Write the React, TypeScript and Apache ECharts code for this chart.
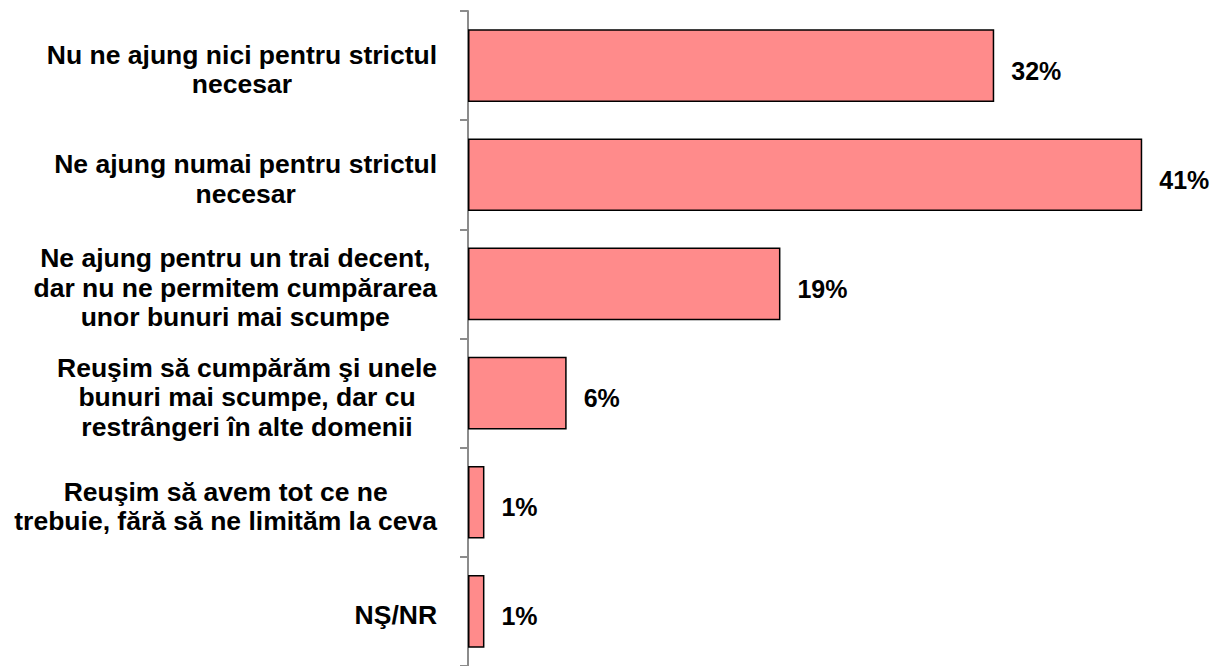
import React, { useEffect, useRef } from "react";
import * as echarts from "echarts";

const categories: string[] = [
  "Nu ne ajung nici pentru strictul\nnecesar",
  "Ne ajung numai pentru strictul\nnecesar",
  "Ne ajung pentru un trai decent,\ndar nu ne permitem cumpărarea\nunor bunuri mai scumpe",
  "Reuşim să cumpărăm şi unele\nbunuri mai scumpe, dar cu\nrestrângeri în alte domenii",
  "Reuşim să avem tot ce ne\ntrebuie, fără să ne limităm la ceva",
  "NŞ/NR",
];

const values: number[] = [32, 41, 19, 6, 1, 1];

const FONT = "'Liberation Sans', Arial, sans-serif";

export default function App() {
  const ref = useRef<HTMLDivElement>(null);

  useEffect(() => {
    if (!ref.current) return;
    const chart = echarts.init(ref.current, null, { renderer: "svg" });
    chart.setOption({
      animation: false,
      backgroundColor: "#ffffff",
      grid: { left: 468, top: 11, width: 740, height: 659, containLabel: false },
      xAxis: {
        type: "value",
        min: 0,
        max: 45,
        show: false,
        splitLine: { show: false },
      },
      yAxis: {
        type: "category",
        inverse: true,
        data: categories,
        axisLine: { show: true, lineStyle: { color: "#8c8c8c", width: 2 } },
        axisTick: { show: true, length: 8, lineStyle: { color: "#8c8c8c", width: 2 } },
        splitLine: { show: false },
        axisLabel: {
          margin: 31,
          align: "right",
          padding: [8, 0, 0, 0],
          formatter: (v: string) =>
            v
              .split("\n")
              .map((l) => `{c|${l}}`)
              .join("\n"),
          rich: {
            c: {
              align: "center",
              fontSize: 26.5,
              fontWeight: "bold",
              fontFamily: FONT,
              color: "#000",
              lineHeight: 29.5,
            },
          },
        },
      },
      series: [
        {
          type: "bar",
          data: values,
          barCategoryGap: "33.5%",
          itemStyle: { color: "#FF8B8B", borderColor: "#000", borderWidth: 1.5 },
          label: {
            show: true,
            position: "right",
            distance: 17,
            offset: [0, 5],
            formatter: "{c}%",
            fontSize: 25,
            fontWeight: "bold",
            fontFamily: FONT,
            color: "#000",
          },
        },
      ],
    });
    return () => chart.dispose();
  }, []);

  return (
    <div
      ref={ref}
      style={{ position: "fixed", left: 0, top: 0, width: 1213, height: 666, background: "#fff" }}
    />
  );
}
